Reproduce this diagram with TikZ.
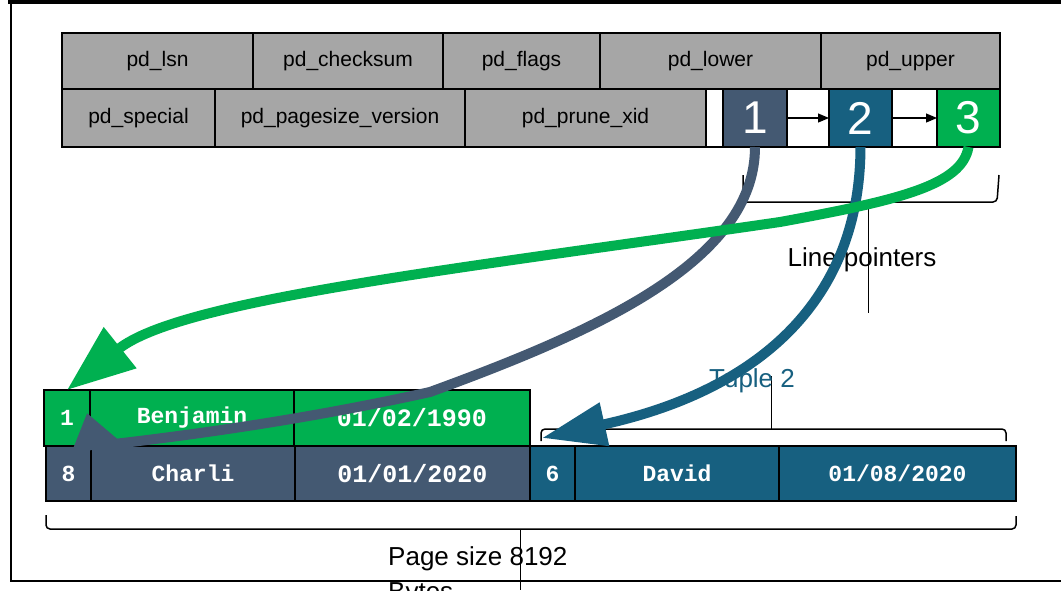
\documentclass[tikz,border=0pt]{standalone}
\usepackage{fontspec}
\setmainfont{Liberation Sans}
\newfontfamily\courfam{Liberation Mono}
\usetikzlibrary{arrows.meta}
\definecolor{slate}{RGB}{68,89,114}
\definecolor{tblue}{RGB}{23,96,128}
\definecolor{tgreen}{RGB}{0,176,80}
\definecolor{hdr}{RGB}{166,166,166}
\tikzset{
  cellbox/.style={draw=black, line width=2pt, anchor=north west, inner sep=0pt, outer sep=0pt},
  hcell/.style={cellbox, fill=hdr, font=\fontsize{21}{25}\selectfont},
  wcell/.style={cellbox, fill=white},
  pcell/.style={cellbox, text=white, font=\fontsize{46}{50}\selectfont},
  tcell/.style={cellbox, text=white, font=\courfam\bfseries\fontsize{23}{26}\selectfont},
  tdate/.style={tcell, font=\courfam\bfseries\fontsize{25}{28}\selectfont},
  bracket/.style={draw=black, line width=1.5pt, rounded corners=4pt},
  stem/.style={draw=black, line width=1pt},
  lbl/.style={font=\fontsize{26}{35}\selectfont, inner sep=0pt},
  ptr/.style={line width=10pt},
  small/.style={line width=1.2pt, -{Triangle[length=11pt,width=9pt]}},
}
\begin{document}
\begin{tikzpicture}[x=1pt,y=-1pt]
\useasboundingbox (0,0) rectangle (1061,590);
\fill[white] (0,0) rectangle (1061,590);
% frame
\draw[line width=4pt] (8,2) -- (1061,2);
\draw[line width=2.5pt] (11,0) -- (11,581) -- (1061,581);
% header row 1
\node[hcell, minimum width=191, minimum height=56] (lsn) at (62,33) {pd\_lsn};
\node[hcell, minimum width=190, minimum height=56] (chk) at (253,33) {pd\_checksum};
\node[hcell, minimum width=157, minimum height=56] (flg) at (443,33) {pd\_flags};
\node[hcell, minimum width=221, minimum height=56] (low) at (600,33) {pd\_lower};
\node[hcell, minimum width=179, minimum height=56] (upp) at (821,33) {pd\_upper};
% header row 2
\node[hcell, minimum width=153, minimum height=58] (spc) at (62,89) {pd\_special};
\node[hcell, minimum width=250, minimum height=58] (psv) at (215,89) {pd\_pagesize\_version};
\node[hcell, minimum width=241, minimum height=58] (prx) at (465,89) {pd\_prune\_xid};
\node[wcell, minimum width=17, minimum height=58] (w0) at (706,89) {};
\node[pcell, fill=slate, minimum width=64, minimum height=58] (p1) at (723,89) {1};
\node[wcell, minimum width=42, minimum height=58] (w1) at (787,89) {};
\node[pcell, fill=tblue, minimum width=63, minimum height=58] (p2) at (829,89) {2};
\node[wcell, minimum width=45, minimum height=58] (w2) at (892,89) {};
\node[pcell, fill=tgreen, minimum width=63, minimum height=58] (p3) at (937,89) {3};
\draw[small] (p1.east) -- (p2.west);
\draw[small] (p2.east) -- (p3.west);
% line pointers bracket
\draw[bracket] (743,175) -- (743,202) -- (868,202);
\draw[bracket] (999,175) -- (997,202) -- (868,202);
\draw[stem] (868,202) -- (868,313);
\node[lbl] (lp) at (862,260) {Line pointers};
% tuples
\node[tcell, fill=tgreen, minimum width=46, minimum height=56] (t1n) at (44,390) {1};
\node[tcell, fill=tgreen, minimum width=204, minimum height=56] (t1a) at (90,390) {Benjamin};
\node[tdate, fill=tgreen, minimum width=236, minimum height=56] (t1d) at (294,390) {01/02/1990};
\node[tcell, fill=slate, minimum width=45, minimum height=55] (t8n) at (46,446) {8};
\node[tcell, fill=slate, minimum width=204, minimum height=55] (t8a) at (91,446) {Charli};
\node[tdate, fill=slate, minimum width=235, minimum height=55] (t8d) at (295,446) {01/01/2020};
\node[tcell, fill=tblue, minimum width=45, minimum height=55] (t6n) at (530,446) {6};
\node[tcell, fill=tblue, minimum width=204, minimum height=55] (t6a) at (575,446) {David};
\node[tcell, fill=tblue, minimum width=237, minimum height=55] (t6d) at (779,446) {01/08/2020};
% tuple 2 bracket
\draw[bracket] (541,441) -- (541,429) -- (1006,429) -- (1006,441);
\draw[stem] (771,429) -- (771,376);
\node[lbl, text=tblue] (tup) at (752,381) {Tuple 2};
% page size bracket
\draw[bracket] (46,515) -- (46,529) -- (1016,529) -- (1016,516);
\draw[stem] (520,529) -- (520,590);
\node[lbl, align=left, anchor=north west] (ps) at (388,546) {Page size 8192\\Bytes};
% pointer arrows
\coordinate (s1) at (87,413);
\coordinate (b1) at (542,438);
\draw[ptr, draw=slate, -{Triangle[length=37pt,width=50pt]}] (p1.south) .. controls (755,260) and (600,330) .. (430,392) .. controls (250,432) and (95,445) .. (s1);
\draw[ptr, draw=tblue, -{Triangle[length=64pt,width=42pt]}] (p2.south) .. controls (860,300) and (760,390) .. (b1);
\draw[ptr, draw=tgreen, -{Triangle[length=68pt,width=50pt]}] (p3.south) .. controls (962,185) and (900,200) .. (780,222) .. controls (450,270) and (180,300) .. (t1n.north);
\end{tikzpicture}
\end{document}
